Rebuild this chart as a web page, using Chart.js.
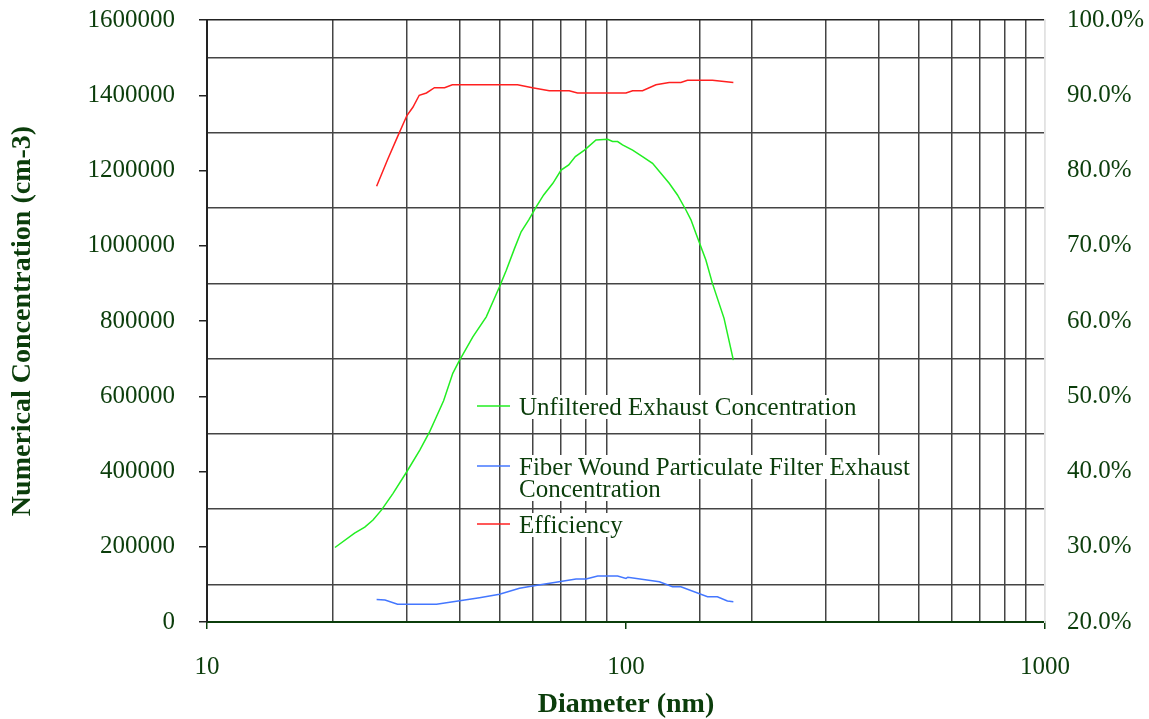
<!DOCTYPE html>
<html>
<head>
<meta charset="utf-8">
<script src="https://cdn.jsdelivr.net/npm/chart.js@4/dist/chart.umd.min.js"></script>
<style>
  html, body { margin: 0; padding: 0; background: #ffffff; }
  #wrap { width: 1149px; height: 719px; }
</style>
</head>
<body>
<div id="wrap"><canvas id="grafica"></canvas></div>
<script>
// datos
var diamUnfiltered = [20.2, 22.5, 23.8, 24.9, 26.1, 27.8, 30.0, 32.2, 34.0, 35.0, 36.7, 38.6, 39.9, 43.1, 46.4, 49.9, 51.8, 54.2, 56.2, 58.6, 61.1, 63.6, 66.9, 70.0, 73.0, 75.7, 79.6, 84.8, 90.4, 92.9, 95.5, 98.1, 103.7, 109.5, 115.7, 126.8, 132.7, 139.0, 142.9, 146.8, 155.1, 160.8, 171.4, 180.4];
var concUnfiltered = [198000, 236000, 252000, 271000, 298000, 342000, 400000, 457000, 506000, 537000, 588000, 661000, 692000, 758000, 811000, 891000, 935000, 993000, 1037000, 1069000, 1104000, 1135000, 1166000, 1201000, 1215000, 1237000, 1254000, 1281000, 1283000, 1277000, 1277000, 1268000, 1254000, 1237000, 1219000, 1166000, 1135000, 1095000, 1069000, 1033000, 962000, 900000, 807000, 696000];

var diamFiltered = [25.4, 26.6, 28.5, 30.0, 35.3, 40.1, 44.7, 49.9, 55.7, 59.8, 66.9, 76.0, 80.3, 85.6, 95.5, 100.0, 101.0, 120.1, 129.1, 135.2, 156.5, 165.2, 174.6, 180.4];
var concFiltered = [60000, 58500, 47000, 47000, 47000, 56600, 64600, 73600, 89600, 95700, 104500, 114300, 114300, 122300, 122300, 116000, 119000, 107100, 93800, 93800, 67200, 67200, 55800, 54000];

var diamEfficiency = [25.4, 27.0, 28.5, 30.0, 31.0, 32.1, 33.4, 34.9, 36.9, 38.5, 55.1, 59.8, 65.6, 73.2, 76.6, 100.0, 103.7, 109.5, 117.9, 126.8, 135.2, 140.2, 160.8, 180.4];
var efficiency = [77.9, 81.5, 84.5, 87.3, 88.4, 90.0, 90.3, 91.0, 91.0, 91.4, 91.4, 91.0, 90.6, 90.6, 90.3, 90.3, 90.6, 90.6, 91.4, 91.7, 91.7, 92.0, 92.0, 91.7];

var seriesNames = ['Unfiltered Exhaust Concentration', 'Fiber Wound Particulate Filter Exhaust Concentration', 'Efficiency'];
var xTickLabels = [10, 100, 1000];

var colorTexto = '#0b3d0b';
var fuente = 'Liberation Serif';

function pares(xs, ys) {
    var out = [];
    for (var i = 0; i < xs.length; i++) {
        out.push({ x: xs[i], y: ys[i] });
    }
    return out;
}

// leyenda dentro del area de la grafica, con fondo blanco detras del texto
var leyendaPlugin = {
    id: 'leyendaInterna',
    afterDatasetsDraw: function (chart) {
        var ctx = chart.ctx;
        var area = chart.chartArea;
        var x0 = area.left + 270;
        var filas = [
            { ds: 0, lineas: ['Unfiltered Exhaust Concentration'], y: area.top + 386 },
            { ds: 1, lineas: ['Fiber Wound Particulate Filter Exhaust', 'Concentration'], y: area.top + 446 },
            { ds: 2, lineas: ['Efficiency'], y: area.top + 504 }
        ];
        ctx.save();
        ctx.font = '25px "' + fuente + '"';
        ctx.textBaseline = 'middle';
        filas.forEach(function (f) {
            var ds = chart.data.datasets[f.ds];
            f.lineas.forEach(function (t, k) {
                var w = ctx.measureText(t).width;
                ctx.fillStyle = '#ffffff';
                ctx.fillRect(x0 + 40, f.y + k * 22 - 11, w + 4, 24);
            });
            ctx.strokeStyle = ds.borderColor;
            ctx.lineWidth = 1.5;
            ctx.beginPath();
            ctx.moveTo(x0, f.y);
            ctx.lineTo(x0 + 33, f.y);
            ctx.stroke();
            ctx.fillStyle = colorTexto;
            f.lineas.forEach(function (t, k) {
                ctx.fillText(t, x0 + 42, f.y + 2 + k * 22);
            });
        });
        ctx.restore();
    }
};

function sinPaddingVertical(s) {
    s.paddingTop = 0;
    s.paddingBottom = 0;
}

var datos = {
    datasets: [
        {
            label: seriesNames[0],
            data: pares(diamUnfiltered, concUnfiltered),
            borderColor: '#22ee22',
            borderWidth: 1.5,
            pointRadius: 0,
            tension: 0,
            yAxisID: 'y'
        },
        {
            label: seriesNames[1],
            data: pares(diamFiltered, concFiltered),
            borderColor: '#4477ff',
            borderWidth: 1.5,
            pointRadius: 0,
            tension: 0,
            yAxisID: 'y'
        },
        {
            label: seriesNames[2],
            data: pares(diamEfficiency, efficiency),
            borderColor: '#ff2020',
            borderWidth: 1.5,
            pointRadius: 0,
            tension: 0,
            yAxisID: 'y1'
        }
    ]
};

var opciones = {
    responsive: true,
    maintainAspectRatio: false,
    animation: false,
    layout: { padding: { top: 20, left: 0, right: 0, bottom: 0 } },
    plugins: {
        legend: { display: false },
        tooltip: { enabled: false }
    },
    scales: {
        x: {
            type: 'logarithmic',
            position: 'bottom',
            min: 10,
            max: 1000,
            grid: {
                color: function (c) {
                    var v = c.tick ? c.tick.value : 0;
                    if (v === 100) return '#ffffff';
                    if (v === 1000) return '#dddddd';
                    return '#444444';
                },
                lineWidth: 1.5,
                tickLength: 7,
                tickWidth: 1.5,
                tickColor: function (c) {
                    var v = c.tick ? c.tick.value : 0;
                    return xTickLabels.indexOf(v) >= 0 ? colorTexto : 'rgba(0,0,0,0)';
                }
            },
            border: { color: colorTexto, width: 2 },
            ticks: {
                autoSkip: false,
                maxRotation: 0,
                padding: 23,
                color: colorTexto,
                font: { family: fuente, size: 25 },
                callback: function (v) {
                    return xTickLabels.indexOf(v) >= 0 ? String(v) : '';
                }
            },
            title: {
                display: true,
                text: 'Diameter (nm)',
                color: colorTexto,
                padding: { top: 0, bottom: 0 },
                font: { family: fuente, size: 28, weight: 'bold', lineHeight: 1 }
            },
            afterFit: function (s) {
                s.height = 97;
                s.paddingLeft = 0;
                s.paddingRight = 0;
            }
        },
        y: {
            position: 'left',
            min: 0,
            max: 1600000,
            grid: {
                color: function (c) {
                    var v = c.tick ? c.tick.value : 0;
                    if (v === 1600000) return '#222222';
                    if (v % 200000 === 0) return 'rgba(0,0,0,0)';
                    return '#444444';
                },
                lineWidth: 1.5,
                tickLength: 8,
                tickWidth: 1.5,
                tickColor: function (c) {
                    var v = c.tick ? c.tick.value : 0;
                    return v % 200000 === 0 ? '#222222' : 'rgba(0,0,0,0)';
                }
            },
            border: { color: '#222222', width: 2 },
            ticks: {
                stepSize: 100000,
                autoSkip: false,
                padding: 24,
                color: colorTexto,
                font: { family: fuente, size: 25 },
                callback: function (v) {
                    return v % 200000 === 0 ? String(v) : '';
                }
            },
            title: {
                display: true,
                text: 'Numerical Concentration (cm-3)',
                color: colorTexto,
                padding: { top: 9, bottom: 0 },
                font: { family: fuente, size: 28, weight: 'bold', lineHeight: 1 }
            },
            afterFit: function (s) {
                s.width = 207;
                sinPaddingVertical(s);
            }
        },
        y1: {
            position: 'right',
            min: 20,
            max: 100,
            grid: { display: false, drawOnChartArea: false, drawTicks: false },
            border: { color: '#e2e2e2', width: 1.5 },
            ticks: {
                stepSize: 10,
                padding: 22,
                color: colorTexto,
                font: { family: fuente, size: 25 },
                callback: function (v) {
                    return v.toFixed(1) + '%';
                }
            },
            afterFit: function (s) {
                s.width = 104;
                sinPaddingVertical(s);
            }
        }
    }
};

var grafica = new Chart(document.getElementById('grafica').getContext('2d'), {
    type: 'line',
    data: datos,
    options: opciones,
    plugins: [leyendaPlugin]
});
</script>
</body>
</html>
